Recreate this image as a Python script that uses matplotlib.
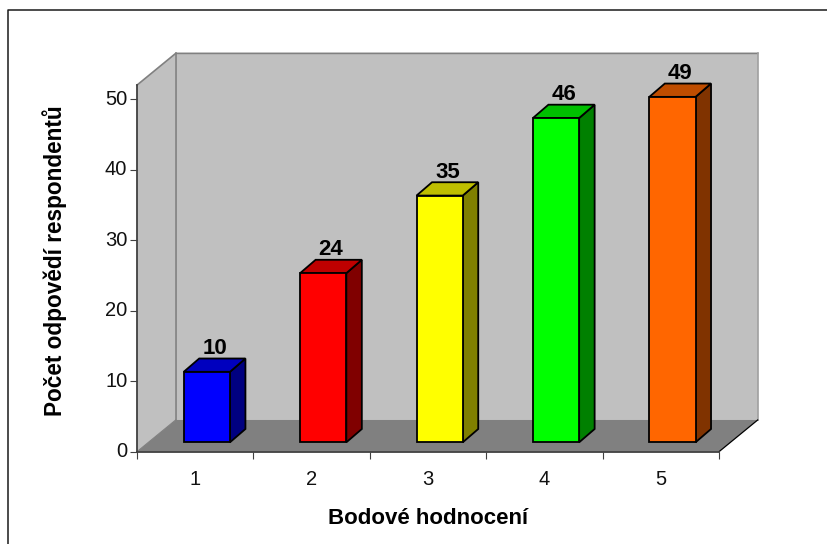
"""3D-look column chart of point ratings, drawn on a flat matplotlib axis."""

import matplotlib

matplotlib.use("Agg")
import matplotlib.pyplot as plt
from matplotlib.lines import Line2D
from matplotlib.patches import Polygon
from matplotlib.transforms import ScaledTranslation

categories = [1, 2, 3, 4, 5]
values = [10, 24, 35, 46, 49]
front_colors = ["#0000FF", "#FF0000", "#FFFF00", "#00FF00", "#FF6600"]
top_colors = ["#0000BF", "#BF0000", "#BFBF00", "#00BF00", "#BF4D00"]
side_colors = ["#000080", "#800000", "#808000", "#008000", "#803300"]
y_ticks = [0, 10, 20, 30, 40, 50]
x_label = "Bodové hodnocení"
y_label = "Počet odpovědí respondentů"

WIDTH, HEIGHT = 828, 544
WALL_TOP = 52.0
# depth of the box and of the columns, in data units
DEPTH_X, DEPTH_Y = 0.3325, 4.5
BAR_DX, BAR_DY = 0.133, 1.89
BAR_SHIFT_X, BAR_SHIFT_Y = 0.1, 1.33
BAR_WIDTH = 0.397
BAR_EDGE = 1.3

plt.rcParams["font.family"] = ["Liberation Sans", "DejaVu Sans"]


def add_poly(axis, points, face, edge="none", linewidth=0.0, zorder=1):
    axis.add_patch(
        Polygon(
            points,
            closed=True,
            facecolor=face,
            edgecolor=edge,
            linewidth=linewidth,
            joinstyle="miter",
            clip_on=False,
            zorder=zorder,
        )
    )


figure = plt.figure(figsize=(WIDTH / 100, HEIGHT / 100), dpi=100)
axis = figure.add_axes(
    [137 / WIDTH, 1 - 451.7 / HEIGHT, 582 / WIDTH, 366.6 / HEIGHT],
    facecolor="none",
)
axis.set_xlim(0.5, 5.5)
axis.set_ylim(0, WALL_TOP)

left, right = axis.get_xlim()
back_left = left + DEPTH_X
back_right = right + DEPTH_X
back_top = WALL_TOP + DEPTH_Y

# back wall, side wall and floor of the box
add_poly(
    axis,
    [(back_left, DEPTH_Y), (back_right, DEPTH_Y), (back_right, back_top), (back_left, back_top)],
    "#C0C0C0",
)
add_poly(
    axis,
    [(left, 0), (back_left, DEPTH_Y), (back_left, back_top), (left, WALL_TOP)],
    "#C0C0C0",
)
add_poly(
    axis,
    [(left, 0), (right, 0), (back_right, DEPTH_Y), (back_left, DEPTH_Y)],
    "#808080",
)
edge_style = dict(clip_on=False, zorder=1.5, solid_capstyle="projecting")
axis.plot([back_left, back_left], [DEPTH_Y, back_top], color="#808080", lw=1.2, **edge_style)
axis.plot([left, back_left, back_right], [WALL_TOP, back_top, back_top], color="#808080", lw=1.2, **edge_style)
axis.plot([back_right, back_right], [DEPTH_Y, back_top], color="#A0A0A0", lw=1.2, **edge_style)
axis.plot([left, back_left], [0, DEPTH_Y], color="#808080", lw=0.8, **edge_style)
axis.plot([right, back_right], [0, DEPTH_Y], color="black", lw=0.9, **edge_style)

for category, value, front, top, side in zip(
    categories, values, front_colors, top_colors, side_colors
):
    x0 = category + BAR_SHIFT_X - BAR_WIDTH / 2
    x1 = x0 + BAR_WIDTH
    y0 = BAR_SHIFT_Y
    y1 = y0 + value
    add_poly(
        axis,
        [(x1, y0), (x1 + BAR_DX, y0 + BAR_DY), (x1 + BAR_DX, y1 + BAR_DY), (x1, y1)],
        side, "black", BAR_EDGE, zorder=3,
    )
    add_poly(
        axis,
        [(x0, y1), (x1, y1), (x1 + BAR_DX, y1 + BAR_DY), (x0 + BAR_DX, y1 + BAR_DY)],
        top, "black", BAR_EDGE, zorder=3,
    )
    axis.bar(
        x0, value, width=BAR_WIDTH, bottom=y0, align="edge",
        color=front, edgecolor="black", linewidth=BAR_EDGE, zorder=4, clip_on=False,
    )
    axis.annotate(
        str(value),
        (x0 + (BAR_WIDTH + BAR_DX) / 2, y1 + BAR_DY),
        xytext=(0, -0.5),
        textcoords="offset points",
        ha="center",
        va="bottom",
        fontsize=16,
        fontweight="bold",
        color="black",
        zorder=5,
        annotation_clip=False,
    )

for name in ("top", "right"):
    axis.spines[name].set_visible(False)
for name in ("left", "bottom"):
    axis.spines[name].set_color("#404040")
    axis.spines[name].set_linewidth(1.3)
    axis.spines[name].set_zorder(2)

axis.set_yticks(y_ticks)
axis.tick_params(axis="y", length=5, width=0.8, color="#404040", labelsize=14.5, pad=2, labelcolor="#111111")
# the y labels sit slightly above their ticks
nudge = ScaledTranslation(0, 1.5 / 72, figure.dpi_scale_trans)
for label in axis.get_yticklabels():
    label.set_transform(label.get_transform() + nudge)
# ticks sit on the category boundaries, labels in the middle
axis.set_xticks([c - 0.5 for c in categories] + [categories[-1] + 0.5])
axis.set_xticklabels([])
axis.set_xticks(categories, minor=True)
axis.set_xticklabels([str(c) for c in categories], minor=True)
axis.tick_params(axis="x", which="major", length=5, width=0.8, color="#404040")
axis.tick_params(axis="x", which="minor", length=0, labelsize=14.5, pad=13, labelcolor="#111111")

figure.text(428 / WIDTH, 1 - 519 / HEIGHT, x_label, fontsize=16, fontweight="bold", ha="center", va="center")
figure.text(
    55 / WIDTH, 1 - 261 / HEIGHT, y_label, fontsize=16.3, fontweight="bold",
    rotation=90, ha="center", va="center",
)

# chart border: left and top only, the rest falls outside the crop
figure.add_artist(
    Line2D(
        [8.3 / WIDTH, 8.3 / WIDTH, 1.0],
        [0.0, 1 - 10.3 / HEIGHT, 1 - 10.3 / HEIGHT],
        transform=figure.transFigure,
        color="#1A1A1A",
        linewidth=1.1,
    )
)

figure.savefig("out.png", dpi=100)
plt.close(figure)
